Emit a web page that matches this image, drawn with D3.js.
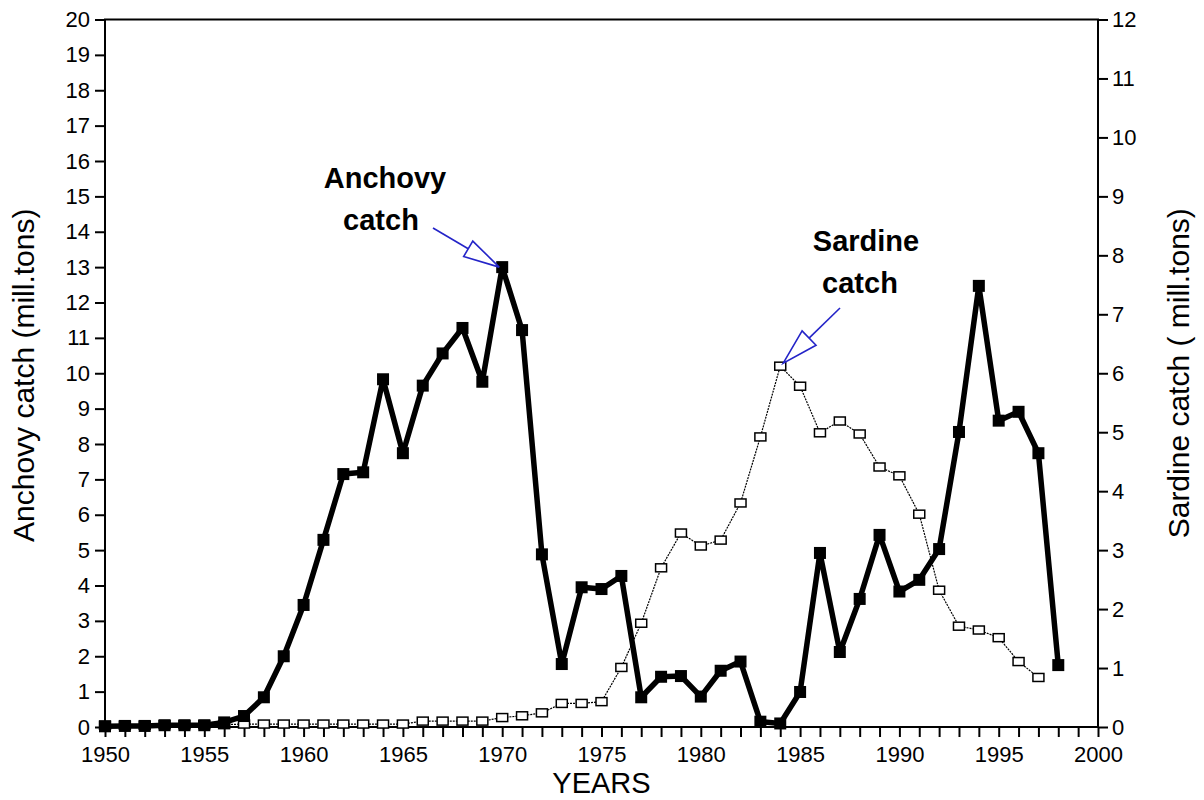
<!DOCTYPE html>
<html>
<head>
<meta charset="utf-8">
<script src="https://cdn.jsdelivr.net/npm/d3@7"></script>
<style>
  html, body { margin: 0; padding: 0; background: #fff; }
  svg { display: block; font-family: "Liberation Sans", Arial, Helvetica, sans-serif; }
</style>
</head>
<body>
<svg id="chart" width="1204" height="800"></svg>
<script>
// Peruvian anchovy and sardine landings, 1950-1998 (million tons)
const years = d3.range(1950, 1999);
const anchovy = [
  0.02, 0.03, 0.03, 0.05, 0.05, 0.05, 0.13, 0.31, 0.84, 2.0,
  3.45, 5.29, 7.15, 7.2, 9.83, 7.74, 9.65, 10.56, 11.28, 9.76,
  13.0, 11.22, 4.88, 1.78, 3.95, 3.9, 4.27, 0.84, 1.42, 1.44,
  0.86, 1.59, 1.85, 0.15, 0.1, 0.99, 4.92, 2.12, 3.62, 5.43,
  3.83, 4.16, 5.03, 8.34, 12.47, 8.66, 8.91, 7.74, 1.75
];
const sardineYears = d3.range(1950, 1998);
const sardine = [
  0.03, 0.03, 0.03, 0.04, 0.04, 0.04, 0.04, 0.05, 0.05, 0.05,
  0.05, 0.05, 0.05, 0.05, 0.05, 0.05, 0.1, 0.1, 0.1, 0.1,
  0.16, 0.19, 0.24, 0.4, 0.4, 0.43, 1.01, 1.76, 2.7, 3.29,
  3.07, 3.17, 3.8, 4.92, 6.12, 5.78, 4.99, 5.19, 4.97, 4.41,
  4.26, 3.61, 2.32, 1.71, 1.645, 1.515, 1.11, 0.84
];
const leftTicks = d3.range(0, 21);
const rightTicks = d3.range(0, 13);
const yearTicks = d3.range(1950, 2001);

const svg = d3.select("#chart");
const L = 105, R = 1098, T = 19.5, B = 727;

const x = d3.scaleLinear().domain([1950, 2000]).range([L, R]);
const yL = d3.scaleLinear().domain([0, 20]).range([B, T]);
const yR = d3.scaleLinear().domain([0, 12]).range([B, T]);

const fontSize = 22;

// Axes
const gL = svg.append("g").attr("transform", `translate(${L},0)`)
  .call(d3.axisLeft(yL).tickValues(leftTicks).tickFormat(d3.format("d")).tickSize(10).tickSizeOuter(0).tickPadding(5));
const gR = svg.append("g").attr("transform", `translate(${R},0)`)
  .call(d3.axisRight(yR).tickValues(rightTicks).tickFormat(d3.format("d")).tickSize(10).tickSizeOuter(0).tickPadding(4));
const gB = svg.append("g").attr("transform", `translate(0,${B})`)
  .call(d3.axisBottom(x).tickValues(yearTicks).tickFormat(d => d % 5 === 0 ? d : "").tickSize(10).tickSizeOuter(0).tickPadding(6));

[gL, gR, gB].forEach(g => {
  g.select(".domain").remove();
  g.selectAll(".tick line").attr("stroke", "#000").attr("stroke-width", 2);
  g.selectAll(".tick text").attr("fill", "#000").style("font-size", fontSize + "px");
});
gB.selectAll(".tick text").attr("dy", "0.85em");

// Frame
svg.append("rect")
  .attr("x", L).attr("y", T).attr("width", R - L).attr("height", B - T)
  .attr("fill", "none").attr("stroke", "#000").attr("stroke-width", 2);

// Axis titles
svg.append("text")
  .attr("transform", `translate(34,${(T + B) / 2 + 2}) rotate(-90)`)
  .attr("text-anchor", "middle")
  .style("font-size", "30px")
  .text("Anchovy catch (mill.tons)");
svg.append("text")
  .attr("transform", `translate(1189,${(T + B) / 2 + 0}) rotate(-90)`)
  .attr("text-anchor", "middle")
  .style("font-size", "30px")
  .text("Sardine catch ( mill.tons)");
svg.append("text")
  .attr("x", (L + R) / 2).attr("y", 793)
  .attr("text-anchor", "middle")
  .style("font-size", "29px")
  .text("YEARS");

// Sardine series (right axis)
const sardineData = sardineYears.map((yr, i) => ({ yr, v: sardine[i] }));
svg.append("path")
  .datum(sardineData)
  .attr("fill", "none").attr("stroke", "#000").attr("stroke-width", 1.2)
  .attr("stroke-dasharray", "2,1")
  .attr("d", d3.line().x(d => x(d.yr)).y(d => yR(d.v)));
svg.append("g").selectAll("rect")
  .data(sardineData).join("rect")
  .attr("x", d => x(d.yr) - 5.5).attr("y", d => yR(d.v) - 4)
  .attr("width", 11).attr("height", 8)
  .attr("fill", "#fff").attr("stroke", "#000").attr("stroke-width", 1.5);

// Anchovy series (left axis)
const anchovyData = years.map((yr, i) => ({ yr, v: anchovy[i] }));
svg.append("path")
  .datum(anchovyData)
  .attr("fill", "none").attr("stroke", "#000").attr("stroke-width", 5.5)
  .attr("stroke-linejoin", "round")
  .attr("d", d3.line().x(d => x(d.yr)).y(d => yL(d.v)));
svg.append("g").selectAll("rect")
  .data(anchovyData).join("rect")
  .attr("x", d => x(d.yr) - 6).attr("y", d => yL(d.v) - 6)
  .attr("width", 12).attr("height", 12)
  .attr("fill", "#000");

// Callout labels with hollow blue arrows
function callout(lines, cx, baselines, from, tip, halfWidth) {
  lines.forEach((t, i) => {
    svg.append("text")
      .attr("x", cx[i]).attr("y", baselines[i])
      .attr("text-anchor", "middle")
      .style("font-size", "29px").style("font-weight", "bold")
      .text(t);
  });
  const dx = tip[0] - from[0], dy = tip[1] - from[1];
  const len = Math.hypot(dx, dy);
  const ux = dx / len, uy = dy / len;
  const headLen = 36;
  const bx = tip[0] - ux * headLen, by = tip[1] - uy * headLen;
  const px = -uy * halfWidth, py = ux * halfWidth;
  svg.append("line")
    .attr("x1", from[0]).attr("y1", from[1]).attr("x2", bx).attr("y2", by)
    .attr("stroke", "#2424c8").attr("stroke-width", 1.6);
  svg.append("path")
    .attr("d", `M${bx + px},${by + py}L${tip[0]},${tip[1]}L${bx - px},${by - py}Z`)
    .attr("fill", "#fff").attr("stroke", "#2424c8").attr("stroke-width", 1.6);
}

const aPeak = anchovyData[anchovy.indexOf(d3.max(anchovy))];
callout(["Anchovy", "catch"], [385, 381], [188, 230],
  [433, 228], [x(aPeak.yr) - 3, yL(aPeak.v)], 9);

const sPeak = sardineData[sardine.indexOf(d3.max(sardine))];
callout(["Sardine", "catch"], [866, 860], [251, 293],
  [840, 308], [x(sPeak.yr) + 3, yR(sPeak.v) - 3], 10);
</script>
</body>
</html>
